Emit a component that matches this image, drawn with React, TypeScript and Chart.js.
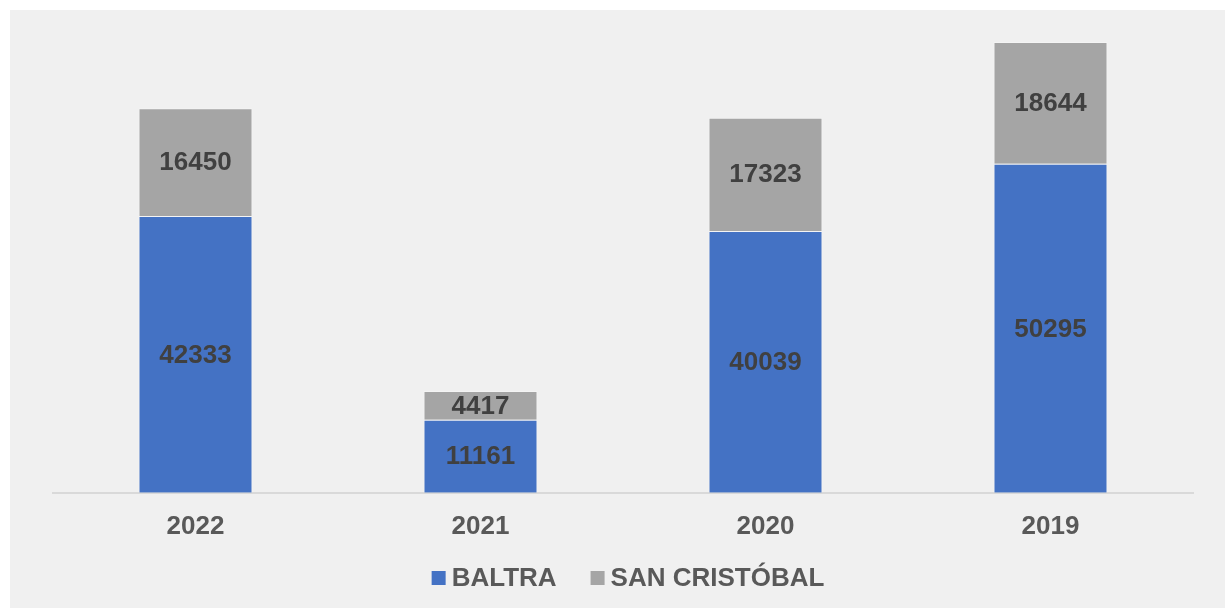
import React, { useEffect, useRef } from "react";
import { Chart, registerables } from "chart.js";

Chart.register(...registerables);

const categories = ["2022", "2021", "2020", "2019"];
const baltra = [42333, 11161, 40039, 50295];
const sanCristobal = [16450, 4417, 17323, 18644];
const seriesNames = ["BALTRA", "SAN CRISTÓBAL"];
const seriesColors = ["#4472C4", "#A5A5A5"];

const FONT = "'Liberation Sans', Arial, sans-serif";

const valueLabels = {
  id: "valueLabels",
  afterDatasetsDraw(chart: any) {
    const ctx = chart.ctx;
    ctx.save();
    ctx.font = `bold 26px ${FONT}`;
    ctx.fillStyle = "#404040";
    ctx.textAlign = "center";
    ctx.textBaseline = "middle";
    chart.data.datasets.forEach((ds: any, di: number) => {
      const meta = chart.getDatasetMeta(di);
      meta.data.forEach((el: any, i: number) => {
        const y = (el.y + el.base) / 2;
        ctx.fillText(String(ds.data[i]), el.x, y + 1);
      });
    });
    ctx.restore();
  },
};

const customLegend = {
  id: "customLegend",
  afterDraw(chart: any) {
    const ctx = chart.ctx;
    ctx.save();
    ctx.font = `bold 26px ${FONT}`;
    const box = 14;
    const gap = 6;
    const itemGap = 34;
    const widths = seriesNames.map((n) => box + gap + ctx.measureText(n).width);
    const total = widths.reduce((a, b) => a + b, 0) + itemGap * (widths.length - 1);
    const cx = (chart.chartArea.left + chart.chartArea.right) / 2 + 5;
    let x = cx - total / 2;
    const y = chart.height - 30;
    ctx.textBaseline = "middle";
    ctx.textAlign = "left";
    seriesNames.forEach((n, i) => {
      ctx.fillStyle = seriesColors[i];
      ctx.fillRect(x, y - box / 2, box, box);
      ctx.fillStyle = "#595959";
      ctx.fillText(n, x + box + gap, y + 1);
      x += widths[i] + itemGap;
    });
    ctx.restore();
  },
};

export default function App() {
  const ref = useRef<HTMLCanvasElement | null>(null);
  useEffect(() => {
    if (!ref.current) return;
    const chart = new Chart(ref.current, {
      type: "bar",
      data: {
        labels: categories,
        datasets: [
          {
            label: seriesNames[0],
            data: baltra,
            backgroundColor: seriesColors[0],
            borderColor: "rgba(255,255,255,0.3)",
            borderWidth: 1,
            categoryPercentage: 1,
            barPercentage: 0.4,
          },
          {
            label: seriesNames[1],
            data: sanCristobal,
            backgroundColor: seriesColors[1],
            borderColor: "rgba(255,255,255,0.3)",
            borderWidth: 1,
            categoryPercentage: 1,
            barPercentage: 0.4,
          },
        ],
      },
      options: {
        animation: false,
        responsive: false,
        maintainAspectRatio: false,
        layout: { padding: { left: 43, right: 32, top: 25, bottom: 48 } },
        plugins: {
          legend: { display: false },
          tooltip: { enabled: false },
        },
        scales: {
          x: {
            stacked: true,
            grid: { display: false, drawTicks: false },
            border: { display: true, color: "#d9d9d9", width: 2 },
            ticks: {
              padding: 18,
              color: "#595959",
              font: { family: FONT, size: 26, weight: "bold" },
            },
          },
          y: {
            stacked: true,
            display: false,
            min: 0,
            max: 70000,
          },
        },
      },
      plugins: [valueLabels, customLegend],
    });
    return () => chart.destroy();
  }, []);
  return (
    <div
      style={{
        position: "fixed",
        left: 10,
        top: 10,
        width: 1215,
        height: 598,
        background: "#f0f0f0",
      }}
    >
      <canvas ref={ref} width={1215} height={598} style={{ display: "block" }} />
    </div>
  );
}
